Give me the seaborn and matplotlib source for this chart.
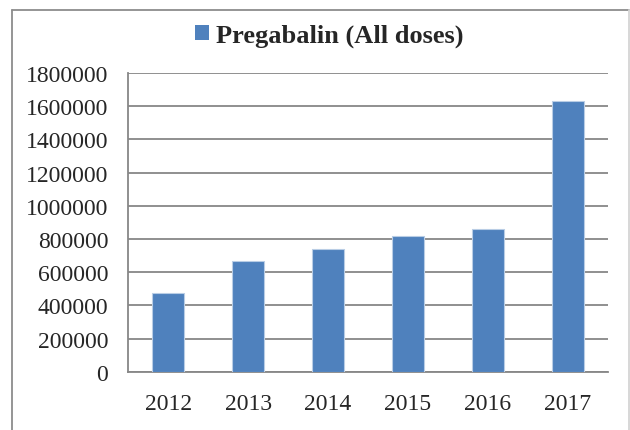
import pandas as pd
import matplotlib.pyplot as plt
import matplotlib.patches as mpatches
from matplotlib.lines import Line2D
from matplotlib.ticker import FixedLocator
import seaborn as sns

years = ['2012', '2013', '2014', '2015', '2016', '2017']
prescriptions = [472000, 669000, 741000, 819000, 857000, 1628000]
y_ticks = [0, 200000, 400000, 600000, 800000, 1000000, 1200000, 1400000, 1600000, 1800000]
series_name = 'Pregabalin (All doses)'

df = pd.DataFrame({'year': years, 'count': prescriptions})

sns.set_style('white')
plt.rcParams['font.family'] = ['Liberation Serif', 'DejaVu Serif']

bar_color = '#4f81bd'
grid_color = '#878787'

fig = plt.figure(figsize=(6.3, 4.31), dpi=100)
ax = fig.add_axes([128.3 / 630, 58.3 / 431, 479.4 / 630, 298.8 / 431])

sns.barplot(data=df, x='year', y='count', color=bar_color, width=0.4,
            saturation=1, edgecolor='#b9cde5', linewidth=0.8, ax=ax, zorder=3)

ax.set_xlim(-0.5, len(years) - 0.5)
ax.set_ylim(0, 1800000)
ax.set_yticks(y_ticks)
ax.set_yticklabels([str(v) for v in y_ticks])
ax.yaxis.grid(True, color=grid_color, linewidth=1.3, zorder=0)
ax.set_axisbelow(True)

for side in ['top', 'right']:
    ax.spines[side].set_visible(False)
for side in ['left', 'bottom']:
    ax.spines[side].set_color(grid_color)
    ax.spines[side].set_linewidth(1.3)

# category boundary ticks on x, like Excel
ax.xaxis.set_minor_locator(FixedLocator([i - 0.5 for i in range(len(years) + 1)]))
ax.tick_params(axis='x', which='major', length=0, pad=15, labelsize=17)
ax.tick_params(axis='x', which='minor', length=4.5, width=1.3, color=grid_color, direction='out')
ax.tick_params(axis='y', length=4.5, width=1.3, color=grid_color, direction='out', pad=10, labelsize=17)
ax.set_xlabel('')
ax.set_ylabel('')

handle = mpatches.Patch(facecolor=bar_color, edgecolor='none', label=series_name)
fig.legend(handles=[handle], loc='center', bbox_to_anchor=(329.5 / 630, 1 - 36.5 / 431),
           frameon=False, prop={'weight': 'bold', 'size': 19},
           handlelength=0.53, handleheight=0.53, handletextpad=0.25, borderaxespad=0)

# outer chart border
fig.add_artist(Line2D([11.5 / 630, 628.5 / 630], [1 - 10.7 / 431, 1 - 10.7 / 431],
                      color='#8c8c8c', linewidth=1.3, transform=fig.transFigure))
fig.add_artist(Line2D([11.5 / 630, 11.5 / 630], [0, 1 - 10.7 / 431],
                      color='#8c8c8c', linewidth=1.3, transform=fig.transFigure))
fig.add_artist(Line2D([628.5 / 630, 628.5 / 630], [0, 1 - 10.7 / 431],
                      color='#d4d4d4', linewidth=1.3, transform=fig.transFigure))

fig.savefig('out.png', dpi=100)
